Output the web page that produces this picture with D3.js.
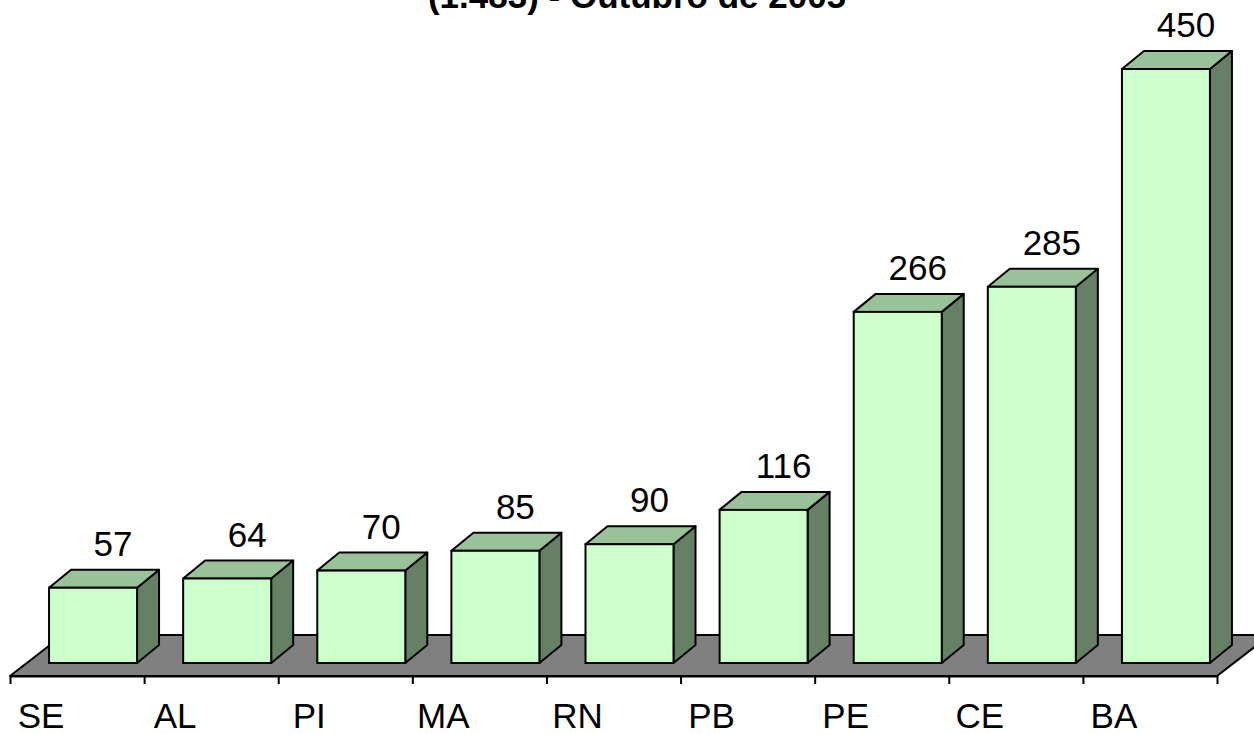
<!DOCTYPE html>
<html>
<head>
<meta charset="utf-8">
<script src="https://cdn.jsdelivr.net/npm/d3@7/dist/d3.min.js"></script>
<style>
  html, body { margin: 0; padding: 0; background: #ffffff; }
  svg { display: block; font-family: "Liberation Sans", Arial, sans-serif; }
</style>
</head>
<body>
<svg id="chart" width="1254" height="734"></svg>
<script>
const titleText = "(1.483) - Outubro de 2005";
const categories = ["SE", "AL", "PI", "MA", "RN", "PB", "PE", "CE", "BA"];
const values = [57, 64, 70, 85, 90, 116, 266, 285, 450];

const W = 1254, H = 734;
const svg = d3.select("#chart");

const axisY = 676;
const floorDX = 53, floorDY = -41;
const barDX = 22, barDY = -18;
const frontShiftX = 16, frontShiftY = -13;
const barW = 88;

const x = d3.scaleLinear().domain([0, categories.length]).range([10, 1217]);
const y = d3.scaleLinear().domain([0, 450]).range([axisY + frontShiftY, 69]);
const bandW = x(1) - x(0);

// title (first line lies above the visible area, as in the original)
svg.append("text")
  .attr("x", 637).attr("y", 8)
  .attr("text-anchor", "middle")
  .attr("font-weight", "bold")
  .attr("font-size", 35)
  .text(titleText);

// floor
const x0 = x(0), x1 = x(categories.length);
svg.append("polygon")
  .attr("points", [[x0, axisY], [x1, axisY], [x1 + floorDX, axisY + floorDY], [x0 + floorDX, axisY + floorDY]].map(p => p.join(",")).join(" "))
  .attr("fill", "#808080")
  .attr("stroke", "#000")
  .attr("stroke-width", 2)
  .attr("stroke-linejoin", "round");

// axis
const axis = d3.axisBottom(x)
  .tickValues(d3.range(categories.length + 1))
  .tickSize(8)
  .tickSizeOuter(0)
  .tickFormat("");
const gAxis = svg.append("g").attr("transform", `translate(0,${axisY})`).call(axis);
gAxis.selectAll("path, line").attr("stroke", "#000").attr("stroke-width", 2);

// category labels
svg.append("g").selectAll("text").data(categories).join("text")
  .attr("x", (d, i) => x(i) + 31)
  .attr("y", 728)
  .attr("text-anchor", "middle")
  .attr("font-size", 35)
  .attr("fill", "#000")
  .text(d => d);

// bars
const bars = svg.append("g").selectAll("g").data(values).join("g");
bars.each(function(v, i) {
  const g = d3.select(this);
  const fx = x(i) + frontShiftX + (bandW - barW) / 2;
  const yb = y(0), yt = y(v);
  const pts = a => a.map(p => p.join(",")).join(" ");
  // side
  g.append("polygon")
    .attr("points", pts([[fx + barW, yt], [fx + barW + barDX, yt + barDY], [fx + barW + barDX, yb + barDY], [fx + barW, yb]]))
    .attr("fill", "#668066").attr("stroke", "#000").attr("stroke-width", 2).attr("stroke-linejoin", "round");
  // top
  g.append("polygon")
    .attr("points", pts([[fx, yt], [fx + barDX, yt + barDY], [fx + barW + barDX, yt + barDY], [fx + barW, yt]]))
    .attr("fill", "#99C299").attr("stroke", "#000").attr("stroke-width", 2).attr("stroke-linejoin", "round");
  // front
  g.append("rect")
    .attr("x", fx).attr("y", yt).attr("width", barW).attr("height", yb - yt)
    .attr("fill", "#CCFFCC").attr("stroke", "#000").attr("stroke-width", 2);
  // value label
  g.append("text")
    .attr("x", fx + barW / 2 + 20)
    .attr("y", yt + barDY - 14)
    .attr("text-anchor", "middle")
    .attr("font-size", 35)
    .attr("fill", "#000")
    .text(v);
});
</script>
</body>
</html>
